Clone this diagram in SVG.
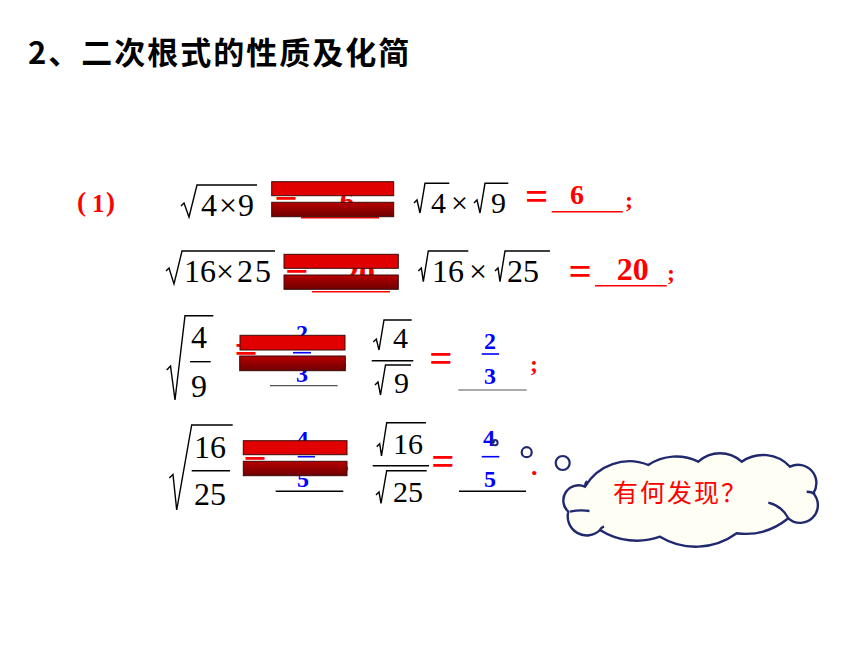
<svg xmlns="http://www.w3.org/2000/svg" width="860" height="645" viewBox="0 0 860 645">
<defs>
<linearGradient id="dark" x1="0" y1="0" x2="0" y2="1">
<stop offset="0" stop-color="#b80000"/>
<stop offset="1" stop-color="#6e0000"/>
</linearGradient>
<style>
.m{font-family:"Liberation Serif","Times New Roman",serif;font-size:32px;fill:#000}
.m30{font-family:"Liberation Serif","Times New Roman",serif;font-size:30px;fill:#000}
.eq{font-family:"Liberation Serif","Times New Roman",serif;font-weight:bold;font-size:41px;fill:#ff0000}
.rn{font-family:"Liberation Serif","Times New Roman",serif;font-weight:bold;fill:#ff0000}
.bn{font-family:"Liberation Serif","Times New Roman",serif;font-weight:bold;font-size:24px;fill:#0000ff}
.rad{fill:none;stroke:#000;stroke-width:1.4;stroke-linejoin:miter}
.fb{stroke:#000;stroke-width:1.4}
.bfb{stroke:#0000ff;stroke-width:1.6}
.ru{stroke:#ff0000;stroke-width:1.5}
.gu{stroke:#555;stroke-width:1.2}
.bar1{fill:#e00000;stroke:#3a0a0a;stroke-width:1}
.bar2{fill:url(#dark);stroke:#3a0a0a;stroke-width:1}
.cj{font-family:"Noto Sans CJK SC","Noto Sans",sans-serif}
.cl{fill:none;stroke:#20286e;stroke-width:2.4}
</style>
</defs>
<rect width="860" height="645" fill="#fff"/>

<g id="title">
<text class="cj" x="28" y="64" font-size="31" font-weight="bold" letter-spacing="2" fill="#000">2、二次根式的性质及化简</text>
</g>

<g id="label1">
<text class="rn" x="77" y="211" font-size="27">(</text>
<text class="rn" x="92" y="212" font-size="25">1</text>
<text class="rn" x="106" y="211" font-size="27">)</text>
</g>

<g id="row1">
<path class="rad" d="M181,206 L184,203 L189,217 L197,185 H257"/>
<text class="m" x="201" y="216">4</text>
<text class="m" x="219" y="216">×</text>
<text class="m" x="238" y="216">9</text>
<text class="eq" x="274.6" y="207.8">=</text>
<text class="rn" x="340" y="210" font-size="28">6</text>
<line class="ru" x1="301" y1="217.7" x2="379" y2="217.7"/>
<rect class="bar1" x="271.7" y="181.7" width="122" height="14"/>
<rect class="bar2" x="271.7" y="202.3" width="122" height="14.4"/>
<path class="rad" d="M414,203 L417,200 L420,213 L425,183.3 H449.3"/>
<text class="m30" x="431" y="213">4</text>
<text class="m30" x="451" y="213">×</text>
<path class="rad" d="M474,203 L477,200 L480,213 L485,183.3 H508.3"/>
<text class="m30" x="491" y="213">9</text>
<text class="eq" x="525" y="209.5">=</text>
<text class="rn" x="570" y="204" font-size="28">6</text>
<line class="ru" x1="551.7" y1="211.7" x2="622.7" y2="211.7"/>
<text class="rn" x="625" y="208" font-size="24">;</text>
</g>

<g id="row2">
<path class="rad" d="M166,271 L169,268 L174,284 L182,251 H275"/>
<text class="m" x="184" y="281.7" font-size="31">16</text>
<text class="m" x="216" y="281.7">×</text>
<text class="m" x="237" y="281.7" letter-spacing="2">25</text>
<text class="eq" x="285.3" y="280.8">=</text>
<text class="rn" x="343" y="284" font-size="32">20</text>
<line class="ru" x1="312" y1="291.7" x2="390" y2="291.7"/>
<rect class="bar1" x="284" y="254.3" width="114.3" height="14"/>
<rect class="bar2" x="284" y="275" width="114.3" height="14.3"/>
<path class="rad" d="M418.3,271 L421.3,268 L423.3,281.7 L428.3,251 H468.3"/>
<text class="m" x="432" y="281.7">16</text>
<text class="m" x="469" y="281.7">×</text>
<path class="rad" d="M495,271 L498,268 L500,281.7 L505,251 H550"/>
<text class="m" x="507" y="281.7">25</text>
<text class="eq" x="568.6" y="284.8">=</text>
<text class="rn" x="616.7" y="280" font-size="32">20</text>
<line class="ru" x1="595" y1="285.7" x2="666.7" y2="285.7"/>
<text class="rn" x="667" y="281" font-size="24">;</text>
</g>

<g id="row3">
<path class="rad" d="M166.7,370 L170.5,366 L175,400 L185,315.7 H213.3"/>
<text class="m" x="191" y="348.3" font-size="35">4</text>
<line class="fb" x1="190" y1="361.7" x2="210.7" y2="361.7"/>
<text class="m" x="191" y="396.7" font-size="35">9</text>
<text class="eq" x="234.6" y="362.5">=</text>
<text class="rn" x="341" y="366" font-size="24">,</text>
<text class="bn" x="296" y="341">2</text>
<line class="bfb" x1="293" y1="352.7" x2="311" y2="352.7"/>
<text class="bn" x="296" y="381.7">3</text>
<line class="gu" x1="270" y1="385.7" x2="337.7" y2="385.7"/>
<rect class="bar1" x="240" y="335.3" width="105" height="14.7"/>
<rect class="bar2" x="239.7" y="356" width="105.6" height="14.7"/>
<path class="rad" d="M373.3,342 L376.3,339 L379,350 L384,320 H411.7"/>
<text class="m30" x="393" y="348.3">4</text>
<line class="fb" x1="371.7" y1="360.7" x2="413.3" y2="360.7"/>
<path class="rad" d="M375,385 L378,382 L380.5,395 L385.5,365 H411"/>
<text class="m30" x="394" y="393.3">9</text>
<text class="eq" x="429.3" y="371.5">=</text>
<text class="bn" x="484" y="349">2</text>
<line class="bfb" x1="481.7" y1="354" x2="499" y2="354"/>
<text class="bn" x="484" y="384">3</text>
<line class="gu" x1="458.3" y1="390" x2="526.7" y2="390"/>
<text class="rn" x="530" y="372" font-size="24">;</text>
</g>

<g id="row4">
<path class="rad" d="M169.3,478 L173,474.5 L176.7,510 L191.7,425 H232.7"/>
<text class="m" x="194" y="458.3" font-size="33">16</text>
<line class="fb" x1="191.7" y1="470.7" x2="230" y2="470.7"/>
<text class="m" x="194" y="505" font-size="33">25</text>
<text class="eq" x="243.6" y="468">=</text>
<text class="rn" x="343" y="469" font-size="24">,</text>
<text class="bn" x="296.5" y="447">4</text>
<line class="bfb" x1="297.7" y1="456.7" x2="315" y2="456.7"/>
<text class="bn" x="297" y="486.7">5</text>
<line class="fb" x1="275.7" y1="491.3" x2="343.3" y2="491.3"/>
<rect class="bar1" x="243.3" y="440.7" width="103.7" height="14"/>
<rect class="bar2" x="243.3" y="461.3" width="103.7" height="14.4"/>
<path class="rad" d="M376.7,446.7 L379.7,443.7 L381.5,456 L386.7,422.7 H426"/>
<text class="m30" x="393" y="454">16</text>
<line class="fb" x1="372.7" y1="465.7" x2="429" y2="465.7"/>
<path class="rad" d="M376,495 L379,492 L381,503.3 L386.7,470.7 H426.7"/>
<text class="m30" x="393" y="501.7">25</text>
<text class="eq" x="431.3" y="474.8">=</text>
<text class="bn" x="483" y="445.7">4</text>
<line class="bfb" x1="481.7" y1="456.7" x2="499.3" y2="456.7"/>
<text class="bn" x="484" y="486.7">5</text>
<line class="fb" x1="459" y1="491.3" x2="526" y2="491.3"/>
<text class="rn" x="531" y="475" font-size="26">.</text>
</g>

<g id="callout">
<circle cx="495" cy="442.7" r="2.6" fill="none" stroke="#20286e" stroke-width="2"/>
<circle cx="526.7" cy="452.2" r="5" fill="none" stroke="#20286e" stroke-width="2.2"/>
<circle cx="562.7" cy="463" r="7" fill="none" stroke="#20286e" stroke-width="2.2"/>
<path d="M585,486.7 A51,51 0 0 1 648.3,465 A50,50 0 0 1 698.3,461.7 A32,32 0 0 1 741.7,461.7 A37,37 0 0 1 790,466.7 A18.3,18.3 0 0 1 813.3,493.3 A17.7,17.7 0 0 1 788.3,518.3 A68,68 0 0 1 736.7,533.3 A69,69 0 0 1 660,536.7 A68.6,68.6 0 0 1 600,530 A19,19 0 0 1 568.3,511.7 A15.2,15.2 0 0 1 585,486.7 Z" fill="#fffef4" stroke="#20286e" stroke-width="2.4"/>
<path class="cl" d="M570,511.7 Q580,509.5 589.5,511"/>
<path class="cl" d="M768.3,502.7 Q782,506 788.3,518.3"/>
<path class="cl" d="M806.7,491.7 Q811,491.5 815,494"/>
<path class="cl" d="M600,530 Q601,527.5 604,526.5"/>
<path class="cl" d="M585,486.7 Q585,483 587,481"/>
<text class="cj" x="613" y="501.5" font-size="25" letter-spacing="2" fill="#ff0000">有何发现？</text>
</g>
</svg>
